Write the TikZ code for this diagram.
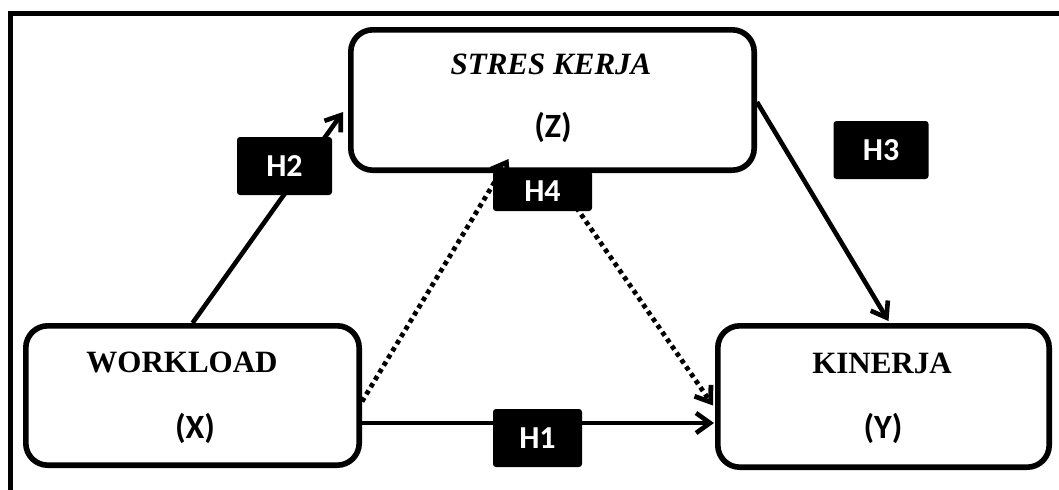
\documentclass[tikz,border=0pt]{standalone}
\usepackage{fontspec}
\setmainfont{Liberation Serif}
\newfontfamily\calibri{Carlito}
\usetikzlibrary{arrows.meta, calc}

\begin{document}
\begin{tikzpicture}[
    x=0.5pt, y=-0.5pt,
    varbox/.style={draw, line width=2.8pt, rounded corners=11pt, fill=white, inner sep=0pt},
    varname/.style={font=\fontsize{15.5}{18}\selectfont\bfseries},
    varsym/.style={font=\calibri\fontsize{17}{20}\selectfont\bfseries},
    hyp/.style={fill=black, text=white, rounded corners=1.5pt, minimum width=47.5pt,
        minimum height=29pt, inner sep=0pt, font=\calibri\fontsize{16}{18}\selectfont\bfseries},
    arr/.style={-{Straight Barb[length=7pt, width=10pt]}, line width=2.3pt},
    dotarr/.style={arr, dash pattern=on 2.2pt off 2pt, line width=2.4pt}
]
\useasboundingbox (0,0) rectangle (1059,489);

% Outer frame (cut at right and bottom)
\draw[line width=2.5pt] (1065,13) -- (10,13) -- (10,495);

% Variable boxes
\node[varbox, minimum width=201.7pt, minimum height=70.2pt] (stres) at (552.5,100) {};
\node[varbox, minimum width=166.7pt, minimum height=69.7pt] (workload) at (192.5,395.5) {};
\node[varbox, minimum width=165.7pt, minimum height=70.7pt] (kinerja) at (883.5,396.5) {};

\node[varname] (stresT) at (551,64) {\itshape STRES KERJA};
\node[varsym] (stresV) at (553,127) {(Z)};
\node[varname] (workT) at (182,362) {WORKLOAD};
\node[varsym] (workV) at (195,428) {(X)};
\node[varname] (kinT) at (882,363) {KINERJA};
\node[varsym] (kinV) at (883,428) {(Y)};

% Direct paths
\draw[arr] (workload.north) -- ($(stres.west)+(-5,12)$);
\draw[arr] ($(stres.east)+(0,2)$) -- ($(kinerja.north)+(5,-2)$);
\draw[arr] ($(workload.east)+(0,27.5)$) -- ($(kinerja.west)+(-1,26.5)$);

% Mediated paths
\draw[dotarr] (stres.south) -- ($(kinerja.west)+(-2,9)$);
\node[hyp, minimum width=49.5pt, minimum height=20pt] (h4) at (542.5,191) {H4};
\draw[dotarr] ($(workload.east)+(0,6)$) -- ($(stres.south)+(-44,-14)$);

% Hypothesis labels
\node[hyp] (h2) at (284.5,166) {H2};
\node[hyp] (h3) at (881,150) {H3};
\node[hyp, minimum width=44.5pt] (h1) at (537.5,438) {H1};
\end{tikzpicture}
\end{document}
